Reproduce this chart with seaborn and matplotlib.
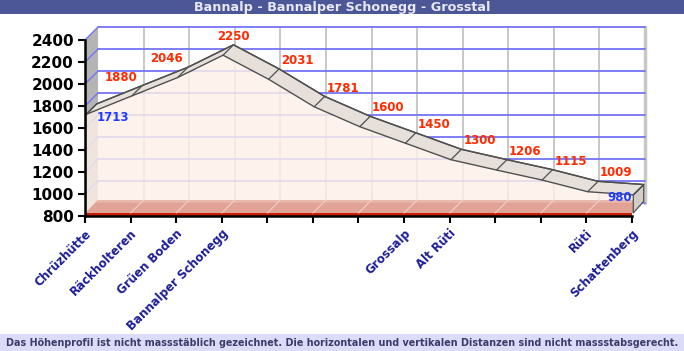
import matplotlib
matplotlib.use("Agg")
import matplotlib.pyplot as plt
import seaborn as sns
import numpy as np
import pandas as pd
from matplotlib.patches import Polygon, Rectangle

# chart data
elevations = [1713, 1880, 2046, 2250, 2031, 1781, 1600, 1450, 1300, 1206, 1115, 1009, 980]
place_names = ["Chrüzhütte", "Räckholteren", "Grüen Boden", "Bannalper Schonegg", "", "", "",
               "Grossalp", "Alt Rüti", "", "", "Rüti", "Schattenberg"]
y_ticks = [800, 1000, 1200, 1400, 1600, 1800, 2000, 2200, 2400]
title = "Bannalp - Bannalper Schonegg - Grosstal"
footer = ("Das Höhenprofil ist nicht massstäblich gezeichnet. "
          "Die horizontalen und vertikalen Distanzen sind nicht massstabsgerecht.")

df = pd.DataFrame({"stop": np.arange(len(elevations)), "elev": elevations})
n = len(elevations) - 1

sns.set_style("white")
plt.rcParams['font.family'] = ['DejaVu Sans']

W, H = 684, 351
fig = plt.figure(figsize=(W / 100, H / 100), dpi=100)
fig.patch.set_facecolor("white")

# fake 3d depth in data units
dx, dy = 0.286, 118
ymin, ymax = 800, 2400
# axes spans front-left corner (85px, 216px) to back top-right (645px, 27px)
ax = fig.add_axes([85 / W, (H - 216) / H, 560 / W, (216 - 27) / H])
ax.set_xlim(0, n + dx)
ax.set_ylim(ymin, ymax + dy)
ax.patch.set_alpha(0)

grid_blue = "#7474f4"
# left wall
ax.add_patch(Polygon([(0, ymin), (0, ymax), (dx, ymax + dy), (dx, ymin + dy)],
                     closed=True, fc="#b4b4b4", ec="none", zorder=1, clip_on=False))
# back wall gridlines
for v in y_ticks:
    ax.plot([dx, n + dx], [v + dy, v + dy], color=grid_blue, lw=1.3, zorder=2, clip_on=False)
    ax.plot([0, dx], [v, v + dy], color=grid_blue, lw=1.0, zorder=2, clip_on=False)
for i in range(1, n + 1):
    ax.plot([i + dx, i + dx], [ymin + dy, ymax + dy], color="#c4c4c4", lw=1.3, zorder=1.5,
            clip_on=False)
# right wall edge
ax.plot([n + dx, n + dx], [ymin + dy, ymax + dy], color="#c8c8c8", lw=2.5, zorder=1.6,
        clip_on=False)

# area under the profile
f0, f1 = 0.1, 0.9
x = df["stop"].to_numpy(float)
y = df["elev"].to_numpy(float)
ax.fill_between(x + f0 * dx, y + f0 * dy, ymin + 25, color="#fdf1e8", alpha=0.82, lw=0,
                zorder=4)

# floor slab
fl = 27
ax.add_patch(Polygon([(0, ymin + fl), (n, ymin + fl), (n + dx, ymin + fl + dy), (dx, ymin + fl + dy)],
                     closed=True, fc="#e0a396", ec="none", zorder=4.3, clip_on=False))
ax.add_patch(Polygon([(0.8 * dx, ymin + fl + 0.8 * dy), (n + 0.8 * dx, ymin + fl + 0.8 * dy),
                      (n + dx, ymin + fl + dy), (dx, ymin + fl + dy)],
                     closed=True, fc="#eab8ac", ec="none", zorder=4.31, clip_on=False))
ax.add_patch(Rectangle((0, ymin), n, fl, fc="#c81e08", ec="none", zorder=4.35, clip_on=False))
for i in range(1, n):
    ax.plot([i, i + dx], [ymin + fl, ymin + fl + dy], color="#f2cfc8", lw=0.8, zorder=4.4)

# ribbon on top of the area
rib = list(zip(x + f0 * dx, y + f0 * dy)) + list(zip((x + f1 * dx)[::-1], (y + f1 * dy)[::-1]))
ax.add_patch(Polygon(rib, closed=True, fc="#e6dfda", ec="#505050", lw=1.0, zorder=5))
for i in range(len(x)):
    ax.plot([x[i] + f0 * dx, x[i] + f1 * dx], [y[i] + f0 * dy, y[i] + f1 * dy],
            color="#505050", lw=0.9, zorder=5.1)
# right end face
ax.add_patch(Polygon([(n + f0 * dx, ymin + fl), (n + f0 * dx, y[-1] + f0 * dy),
                      (n + f1 * dx, y[-1] + f1 * dy), (n + f1 * dx, ymin + fl + f1 * dy)],
                     closed=True, fc="#d4ccc6", ec="#505050", lw=0.9, zorder=4.5))
sns.lineplot(data=df, x=x + f1 * dx, y=y + f1 * dy, ax=ax, color="#505050", lw=1.0, zorder=5.2)

# value labels
for i, v in enumerate(elevations):
    if i == 0:
        ax.text(0.25, v - 20, str(v), color="#1f3cff", fontsize=8.5, fontweight="bold",
                ha="left", va="center", zorder=6)
    elif i == n:
        ax.text(n, v - 15, str(v), color="#1f3cff", fontsize=8.5, fontweight="bold",
                ha="right", va="center", zorder=6)
    else:
        if elevations[i + 1] > v:
            xs, ha = i + 0.15, "right"
        elif elevations[i - 1] < v:
            xs, ha = i + 0.25, "center"
        else:
            xs, ha = i + 0.3, "left"
        ax.text(xs, v + dy + 5, str(v), color="#ff2a00", fontsize=8.5, fontweight="bold",
                ha=ha, va="bottom", zorder=6)

# axes
for s in ["top", "right"]:
    ax.spines[s].set_visible(False)
ax.spines["left"].set_bounds(ymin, ymax)
ax.spines["bottom"].set_bounds(0, n)
for s in ["left", "bottom"]:
    ax.spines[s].set_color("black")
    ax.spines[s].set_linewidth(1.8)
    ax.spines[s].set_zorder(7)
ax.set_yticks(y_ticks)
ax.set_yticklabels([str(t) for t in y_ticks], fontsize=11, fontweight="bold", color="black")
ax.set_xticks(range(len(place_names)))
ax.set_xticklabels(place_names, rotation=45, ha="right", rotation_mode="anchor",
                   fontsize=8.5, fontweight="bold", color="#1c1c96")
ax.tick_params(axis="both", direction="out", length=5, width=1.5, color="black",
               left=True, bottom=True, pad=3)
ax.set_xlabel("")
ax.set_ylabel("")

# title and footer bands
fig.patches.append(Rectangle((0, 1 - 14 / H), 1, 14 / H, transform=fig.transFigure,
                             fc="#4b5797", ec="none", zorder=0))
fig.text(0.5, 1 - 7 / H, title, color="#e8e8f6", fontsize=9.2, fontweight="bold",
         ha="center", va="center")
fig.patches.append(Rectangle((0, 0), 1, 17 / H, transform=fig.transFigure,
                             fc="#dcdcf8", ec="none", zorder=0))
fig.text(0.5, 8.5 / H, footer, color="#3c3c6c", fontsize=6.9, fontweight="bold",
         ha="center", va="center")

fig.savefig("out.png", dpi=100)
